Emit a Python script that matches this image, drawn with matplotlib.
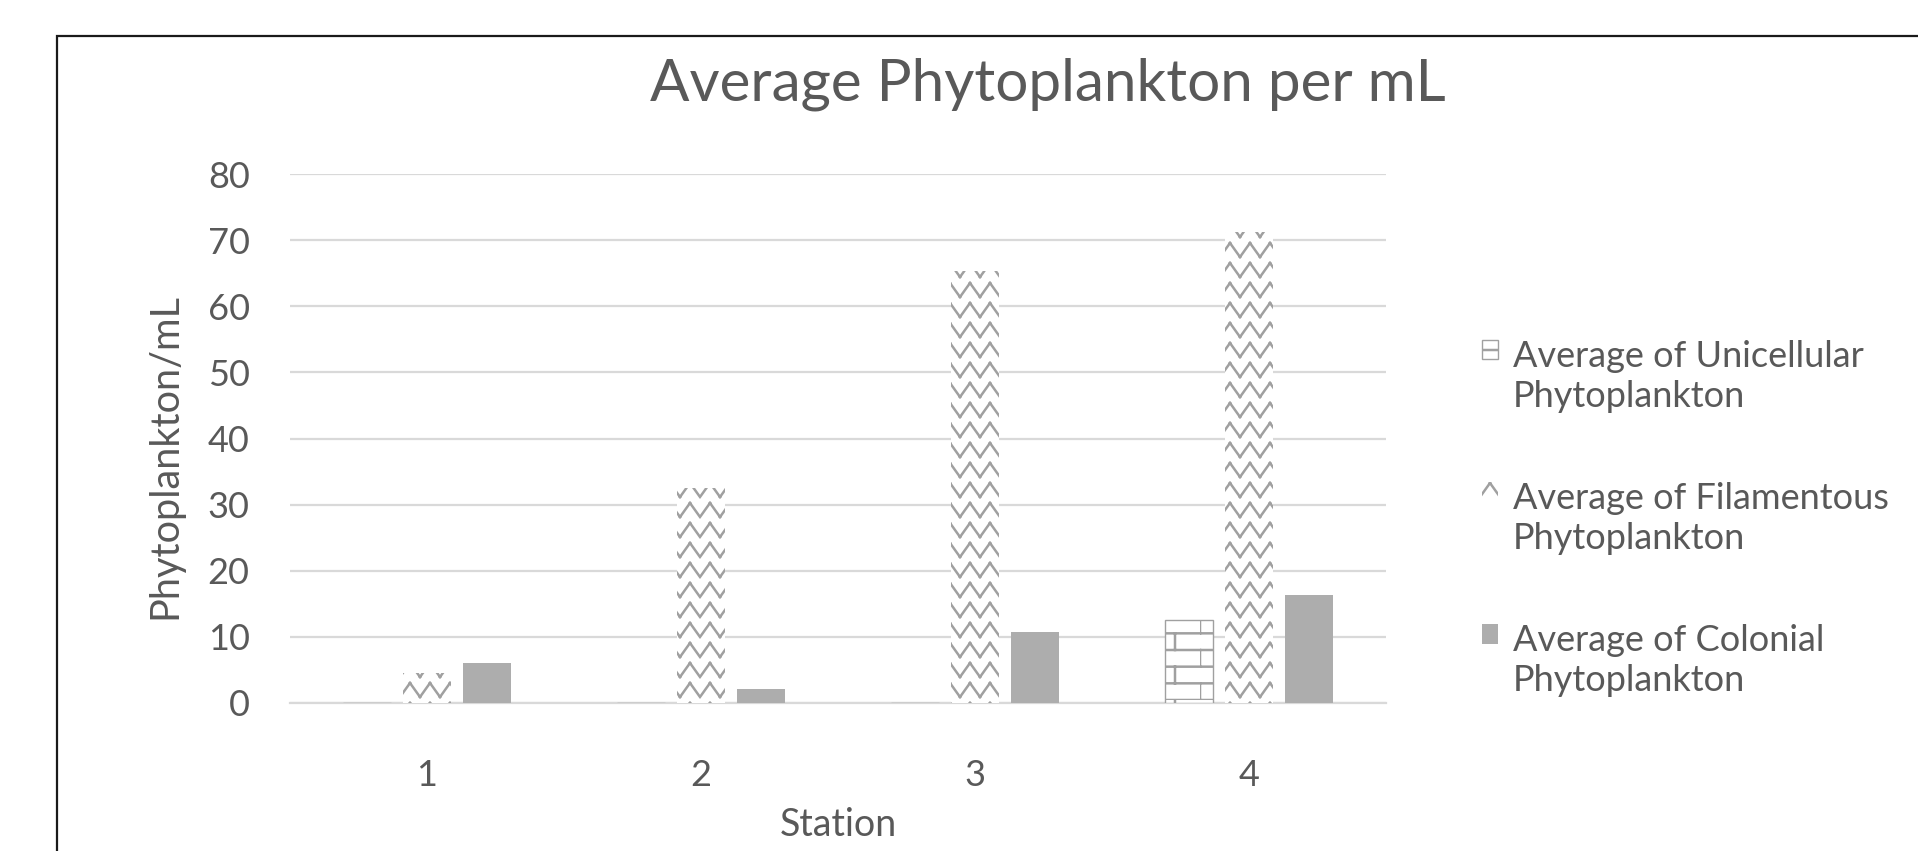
import matplotlib
matplotlib.use("Agg")
import matplotlib.pyplot as plt
import matplotlib.hatch as mhatch
from matplotlib.patches import Rectangle
from matplotlib.path import Path
import numpy as np

# ── Data ──────────────────────────────────────────────────────────────────────

stations = ["1", "2", "3", "4"]

unicellular = [0, 0, 0, 12.6]
filamentous = [4.5, 32.5, 65.3, 71.3]
colonial    = [6.1, 2.1, 10.7, 16.3]

series_labels = [
    "Average of Unicellular\nPhytoplankton",
    "Average of Filamentous\nPhytoplankton",
    "Average of Colonial\nPhytoplankton",
]

yticks = [0, 10, 20, 30, 40, 50, 60, 70, 80]

# ── Excel-like pattern fills (brick / zigzag) ─────────────────────────────────
# matplotlib has no brick or zigzag hatch, so swap two of the shape hatches
# for our own: "O" -> brick, "*" -> zigzag. Both are built from separate
# two-point segments (Agg also fills hatch paths, so no open polylines).


class BrickHatch(mhatch.HatchPatternBase):
    rows = 6

    def __init__(self, hatch, density):
        self.num_vertices = 6 * self.rows if "O" in hatch else 0

    def set_vertices_and_codes(self, vertices, codes):
        pts = []
        for k in range(self.rows):
            y0, y1 = k / self.rows, (k + 1) / self.rows
            pts += [(0, y0), (1, y0)]
            xs = (0.0, 0.5) if k % 2 == 0 else (0.25, 0.75)
            for xx in xs:
                pts += [(xx, y0), (xx, y1)]
        vertices[:] = pts
        codes[0::2] = Path.MOVETO
        codes[1::2] = Path.LINETO


class ZigZagHatch(mhatch.HatchPatternBase):
    rows = 5
    teeth = 5

    def __init__(self, hatch, density):
        self.num_vertices = 4 * self.teeth * self.rows if "*" in hatch else 0

    def set_vertices_and_codes(self, vertices, codes):
        n = 2 * self.teeth
        amp = 0.7 / self.rows
        pts = []
        for k in range(self.rows):
            y0 = k / self.rows + 0.15 / self.rows
            for i in range(n):
                ya = y0 + (amp if i % 2 else 0)
                yb = y0 + (0 if i % 2 else amp)
                pts += [(i / n, ya), ((i + 1) / n, yb)]
        vertices[:] = pts
        codes[0::2] = Path.MOVETO
        codes[1::2] = Path.LINETO


mhatch._hatch_types = [
    t for t in mhatch._hatch_types
    if t not in (mhatch.Stars, mhatch.LargeCircles)
] + [BrickHatch, ZigZagHatch]

# ── Style ─────────────────────────────────────────────────────────────────────

TEXT_GREY = "#595959"
GRID_GREY = "#d9d9d9"
PATTERN_GREY = "#a0a0a0"
FILL_GREY = "#adadad"

plt.rcParams.update({
    "font.family": ["Lato", "DejaVu Sans"],
    "hatch.linewidth": 1.8,
})

fig = plt.figure(figsize=(19.18, 8.51), dpi=100)
ax = fig.add_axes([290 / 1918, 1 - 703 / 851, 1096 / 1918, 529 / 851])

x = np.arange(len(stations))
w = 0.175
step = 0.218

ax.bar(x - step, unicellular, w, facecolor="white", edgecolor=PATTERN_GREY,
       linewidth=1.0, hatch="O", label=series_labels[0], zorder=3)
ax.bar(x, filamentous, w, facecolor="white", edgecolor=PATTERN_GREY,
       linewidth=0, hatch="*", label=series_labels[1], zorder=3)
ax.bar(x + step, colonial, w, color=FILL_GREY, linewidth=0,
       label=series_labels[2], zorder=3)

ax.set_xlim(-0.5, len(stations) - 0.5)
ax.set_ylim(0, 80)
ax.set_yticks(yticks)
ax.set_xticks(x)
ax.set_xticklabels(stations)
ax.tick_params(axis="both", length=0, labelsize=26, labelcolor=TEXT_GREY)
ax.tick_params(axis="y", pad=29)
ax.tick_params(axis="x", pad=40)

for side in ["top", "right", "left"]:
    ax.spines[side].set_visible(False)
ax.spines["bottom"].set_color(GRID_GREY)
ax.spines["bottom"].set_linewidth(1.6)
ax.yaxis.grid(True, color=GRID_GREY, linewidth=1.6)
ax.set_axisbelow(True)

ax.set_xlabel("Station", fontsize=27, color=TEXT_GREY, va="center")
ax.xaxis.set_label_coords(0.5, -0.23)
ax.set_ylabel("Phytoplankton/mL", fontsize=28.5, color=TEXT_GREY, va="center")
ax.yaxis.set_label_coords(-0.114, 0.467)

fig.text(1048 / 1918, 1 - 84 / 851, "Average Phytoplankton per mL",
         fontsize=42, color=TEXT_GREY, ha="center", va="center")

leg = ax.legend(
    loc="upper left", bbox_to_anchor=(1482 / 1918, 1 - 340 / 851),
    bbox_transform=fig.transFigure, frameon=False, fontsize=26,
    handlelength=0.45, handleheight=0.45, handletextpad=0.4,
    borderpad=0, borderaxespad=0, labelspacing=1.92, labelcolor=TEXT_GREY,
)
for t in leg.get_texts():
    t.set_linespacing(1.25)
# put the key next to the first line of each two-line label
for col in leg._legend_handle_box.get_children():
    for item in col.get_children():
        item.align = "top"

# chart border (the screenshot cuts off its right and bottom sides)
fig.add_artist(Rectangle((57 / 1918, -0.2), 2.0, 1.2 - 36 / 851,
                         transform=fig.transFigure, fill=False,
                         edgecolor="#1a1a1a", linewidth=1.6))

fig.savefig("out.png", dpi=100)
